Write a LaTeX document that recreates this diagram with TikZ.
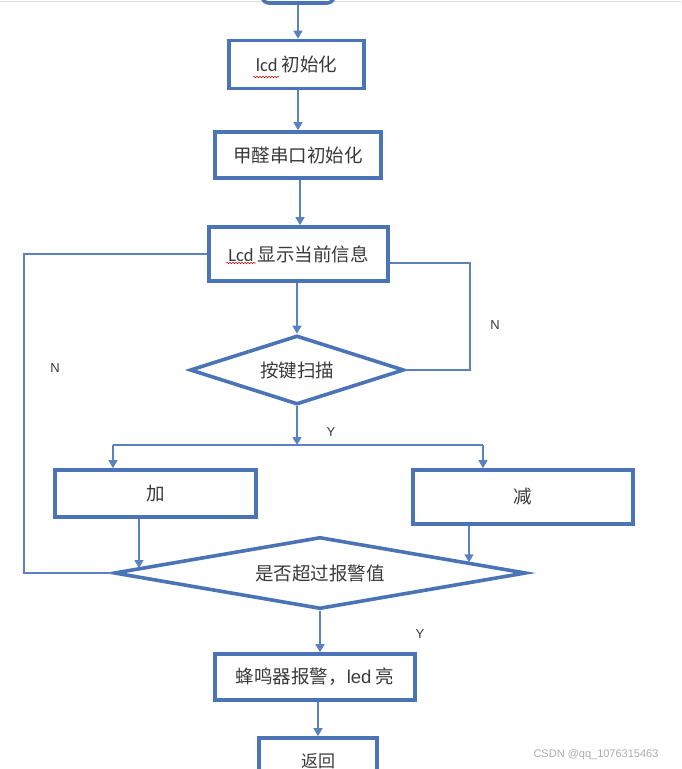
\documentclass[tikz,border=0pt]{standalone}
\usepackage{fontspec}
\setmainfont{Liberation Sans}
\newfontfamily\cjk{Noto Sans CJK SC}
\newfontfamily\lat{Carlito}
\usetikzlibrary{arrows.meta,shapes.geometric,calc,decorations.pathmorphing}
\definecolor{boxblue}{HTML}{4A74B6}
\definecolor{lineblue}{HTML}{5A82C0}
\definecolor{txt}{HTML}{3A3A3A}
\tikzset{
  box/.style={draw=boxblue, line width=3.6pt, fill=white, inner sep=0pt,
    text=txt, font=\cjk\fontsize{18.5}{18.5}\selectfont},
  dia/.style={diamond, draw=boxblue, line width=3.6pt, fill=white, inner sep=0pt,
    text=txt, font=\cjk\fontsize{18.5}{18.5}\selectfont},
  conn/.style={draw=lineblue, line width=1.4pt},
  arr/.style={conn, -{Triangle[length=8pt,width=9pt]}},
  lab/.style={text=txt, font=\fontsize{13}{13}\selectfont},
  squig/.style={draw=red!75!black, line width=0.5pt, decorate,
    decoration={snake, amplitude=0.8pt, segment length=3pt}}
}
\begin{document}
\begin{tikzpicture}[x=1pt,y=-1pt]
\useasboundingbox (0,0) rectangle (681,769);
\draw[gray!30, line width=1pt] (0,1) -- (681,1);

% nodes
\node[box, rounded corners=7pt, minimum width=72pt, minimum height=30pt] (start) at (298,-12) {};
\node[box, minimum width=135pt, minimum height=48pt] (b1) at (296.5,64.5) {{\lat lcd}\ 初始化};
\node[box, minimum width=166pt, minimum height=46pt] (b2) at (298,155) {甲醛串口初始化};
\node[box, minimum width=179pt, minimum height=54pt] (b3) at (298.5,254) {{\lat Lcd}\ 显示当前信息};
\node[dia, aspect=3.1, minimum width=214pt, minimum height=69pt] (d1) at (297,370) {按键扫描};
\node[box, minimum width=201pt, minimum height=47pt] (jia) at (155.5,493.5) {加};
\node[box, minimum width=220pt, minimum height=54pt] (jian) at (523,497) {减};
\node[dia, aspect=5.7, minimum width=412pt, minimum height=72pt] (d2) at (320,573) {是否超过报警值};
\node[box, minimum width=200pt, minimum height=46pt] (b4) at (315,677) {蜂鸣器报警，{\fontspec{Liberation Sans}led}\ 亮};
\node[box, minimum width=118pt, minimum height=54pt] (b5) at (318,765) {\raisebox{9pt}{\fontsize{17}{17}\selectfont 返回}};

% spell-check squiggles
\draw[squig] (253,77) -- (279,77);
\draw[squig] (226,263) -- (256,263);

% coordinates
\coordinate (junc) at (d1.south |- 0,445);
\coordinate (jl) at (113,445);
\coordinate (jr) at (483,445);
\coordinate (nl) at (24,400);
\coordinate (nr) at (470,263);
\coordinate (ja) at (139,520);
\coordinate (jb) at (469,527);
\coordinate (ja2) at (ja |- d2.west);
\coordinate (jb2) at (jb |- d2.west);

% connectors
\draw[arr] (start.south -| 298,0) -- (b1.north -| 298,0);
\draw[arr] (b1.south -| 298,0) -- (b2.north -| 298,0);
\draw[arr] (b2.south -| 300,0) -- (b3.north -| 300,0);
\draw[arr] (b3.south -| d1.north) -- (d1.north);
\draw[arr] (d1.south) -- (junc);
\draw[conn] (jl) -- (jr);
\draw[arr] (jl) -- (jl |- jia.north);
\draw[arr] (jr) -- (jr |- jian.north);
\draw[arr] (ja |- jia.south) -- (intersection of ja--ja2 and d2.west--d2.north);
\draw[arr] (jb |- jian.south) -- (intersection of jb--jb2 and d2.north--d2.east);
\draw[conn] (d1.east) -| (nr) -- (nr -| b3.east);
\draw[conn] (b3.west) -| (nl) |- (d2.west);
\draw[arr] (d2.south) -- (d2.south |- b4.north);
\draw[arr] (b4.south -| 318,0) -- (b5.north);

% labels
\node[lab] (ln1) at (495,325) {N};
\node[lab] (ln2) at (55,368) {N};
\node[lab] (ly1) at (331,432) {Y};
\node[lab] (ly2) at (420,634) {Y};
\node[text=gray!65, font=\fontsize{11}{11}\selectfont] (wm) at (596,755) {CSDN @qq\_1076315463};
\end{tikzpicture}
\end{document}
